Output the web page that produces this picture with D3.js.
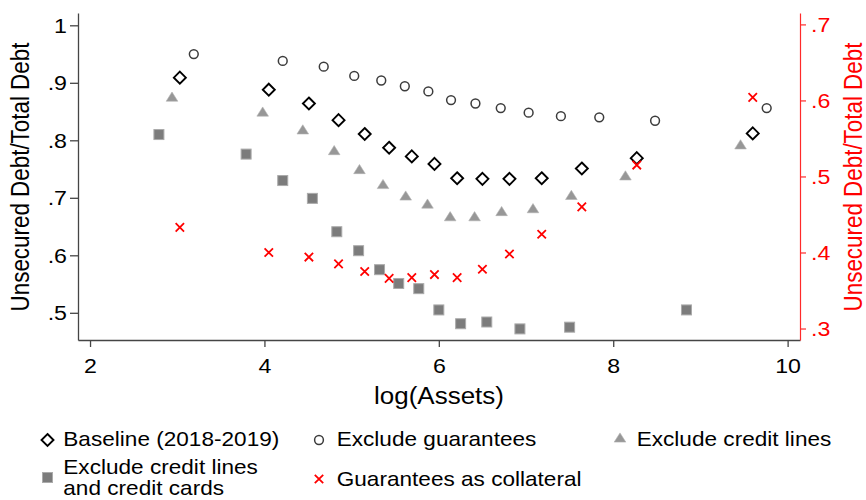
<!DOCTYPE html>
<html>
<head>
<meta charset="utf-8">
<script src="https://cdn.jsdelivr.net/npm/d3@7/dist/d3.min.js"></script>
<style>
  html, body { margin: 0; padding: 0; background: #fff; }
  svg { display: block; font-family: "Liberation Sans", Arial, sans-serif; }
</style>
</head>
<body>
<svg id="chart" width="866" height="500"></svg>
<script>
// log(Assets) bin midpoints shared by the baseline and collateral series
const assetsBase = [3.03, 4.05, 4.51, 4.85, 5.15, 5.43, 5.69, 5.95, 6.21, 6.50, 6.81, 7.18, 7.64, 8.27, 9.60];
const baselineShare = [0.909, 0.888, 0.864, 0.835, 0.811, 0.787, 0.772, 0.759, 0.734, 0.733, 0.733, 0.734, 0.751, 0.769, 0.812];
const collateralShare = [0.433, 0.400, 0.394, 0.385, 0.375, 0.366, 0.367, 0.371, 0.367, 0.378, 0.398, 0.424, 0.460, 0.515, 0.604];

const assetsExclGuar = [3.19, 4.21, 4.68, 5.03, 5.34, 5.61, 5.88, 6.14, 6.42, 6.71, 7.03, 7.40, 7.84, 8.48, 9.76];
const exclGuarShare = [0.950, 0.938, 0.928, 0.912, 0.904, 0.894, 0.885, 0.870, 0.864, 0.856, 0.848, 0.842, 0.840, 0.834, 0.856];

const assetsExclCL = [2.94, 3.98, 4.44, 4.80, 5.09, 5.36, 5.62, 5.87, 6.13, 6.41, 6.72, 7.08, 7.52, 8.14, 9.46];
const exclCLShare = [0.876, 0.850, 0.819, 0.783, 0.750, 0.724, 0.704, 0.690, 0.668, 0.668, 0.677, 0.682, 0.705, 0.739, 0.793];

const assetsExclCLCC = [2.79, 3.79, 4.21, 4.55, 4.83, 5.08, 5.32, 5.54, 5.77, 6.00, 6.25, 6.55, 6.93, 7.50, 8.84];
const exclCLCCShare = [0.810, 0.776, 0.730, 0.699, 0.641, 0.608, 0.575, 0.551, 0.542, 0.505, 0.481, 0.484, 0.472, 0.475, 0.505];

const xTicks = [2, 4, 6, 8, 10];
const yLeftTicks = [0.5, 0.6, 0.7, 0.8, 0.9, 1];
const yRightTicks = [0.3, 0.4, 0.5, 0.6, 0.7];

const legendLabels = [
  ["Baseline (2018-2019)"],
  ["Exclude guarantees"],
  ["Exclude credit lines"],
  ["Exclude credit lines", "and credit cards"],
  ["Guarantees as collateral"]
];

const svg = d3.select("#chart");
const SX = 1.13; // horizontal text stretch

const x = d3.scaleLinear().domain([1.862, 10.142]).range([78, 800]);
const yL = d3.scaleLinear().domain([0.4527, 1.0214]).range([340, 13]);
const yR = d3.scaleLinear().domain([0.2849, 0.715]).range([340, 13]);

const fmt = v => v === 1 ? "1" : d3.format(".1f")(v).replace(/^0/, "");

// ---- marker shapes ----
function diamond(g, cx, cy) {
  const h = 6;
  g.append("path")
    .attr("d", `M${cx},${cy - h}L${cx + h},${cy}L${cx},${cy + h}L${cx - h},${cy}Z`)
    .attr("fill", "#fff").attr("stroke", "#000").attr("stroke-width", 1.9);
}
function circle(g, cx, cy) {
  g.append("circle").attr("cx", cx).attr("cy", cy).attr("r", 4.4)
    .attr("fill", "none").attr("stroke", "#3c3c3c").attr("stroke-width", 1.5);
}
function triangle(g, cx, cy) {
  const w = 5.8, h = 4.6;
  g.append("path")
    .attr("d", `M${cx},${cy - h}L${cx + w},${cy + h}L${cx - w},${cy + h}Z`)
    .attr("fill", "#979797").attr("stroke", "#b0b0b0").attr("stroke-width", 0.6);
}
function square(g, cx, cy) {
  const s = 5;
  g.append("rect").attr("x", cx - s).attr("y", cy - s).attr("width", 2 * s).attr("height", 2 * s)
    .attr("fill", "#7c7c7c").attr("stroke", "#ababab").attr("stroke-width", 1);
}
function cross(g, cx, cy) {
  const a = 4.2;
  g.append("path")
    .attr("d", `M${cx - a},${cy - a}L${cx + a},${cy + a}M${cx - a},${cy + a}L${cx + a},${cy - a}`)
    .attr("stroke", "#ff0000").attr("stroke-width", 1.8).attr("fill", "none");
}

// ---- axes ----
const axisLeft = svg.append("g").attr("transform", "translate(78,0)")
  .call(d3.axisLeft(yL).tickValues(yLeftTicks).tickFormat(fmt).tickSize(8).tickSizeOuter(0));
const axisBottom = svg.append("g").attr("transform", "translate(0,340)")
  .call(d3.axisBottom(x).tickValues(xTicks).tickFormat(d3.format("d")).tickSize(7).tickSizeOuter(0));
const axisRight = svg.append("g").attr("transform", "translate(800,0)")
  .call(d3.axisRight(yR).tickValues(yRightTicks).tickFormat(fmt).tickSize(6).tickSizeOuter(0));

[axisLeft, axisBottom].forEach(a => {
  a.select(".domain").attr("stroke", "#454545").attr("stroke-width", 1.3);
  a.selectAll(".tick line").attr("stroke", "#454545").attr("stroke-width", 1.3);
  a.selectAll(".tick text").attr("fill", "#000");
});
axisRight.select(".domain").attr("stroke", "#ff2a2a").attr("stroke-width", 1.2);
axisRight.selectAll(".tick line").attr("stroke", "#ff2a2a").attr("stroke-width", 1.2);
axisRight.selectAll(".tick text").attr("fill", "#ff0000");

svg.selectAll(".tick text").attr("font-family", "Liberation Sans, Arial, sans-serif").attr("font-size", 20.5);

axisLeft.selectAll(".tick text").attr("x", null).attr("dy", "0.35em")
  .attr("transform", `translate(-11,0) scale(${SX},1)`);
axisRight.selectAll(".tick text").attr("x", null).attr("dy", "0.35em")
  .attr("transform", `translate(11,0) scale(${SX},1)`);
axisBottom.selectAll(".tick text").attr("y", null).attr("dy", null)
  .attr("transform", `translate(0,33) scale(${SX},1)`);

// ---- axis titles ----
svg.append("text")
  .attr("transform", `translate(29,177) scale(${SX},1) rotate(-90)`)
  .attr("text-anchor", "middle").attr("font-size", 22.4).attr("fill", "#000")
  .text("Unsecured Debt/Total Debt");
svg.append("text")
  .attr("transform", `translate(862,177) scale(${SX},1) rotate(-90)`)
  .attr("text-anchor", "middle").attr("font-size", 22.4).attr("fill", "#ff0000")
  .text("Unsecured Debt/Total Debt");
svg.append("text")
  .attr("transform", `translate(439,404) scale(${SX},1)`)
  .attr("text-anchor", "middle").attr("font-size", 23).attr("fill", "#000")
  .text("log(Assets)");

// ---- points ----
const plot = svg.append("g");
const series = [
  { xs: assetsBase, ys: baselineShare, y: yL, mark: diamond },
  { xs: assetsExclGuar, ys: exclGuarShare, y: yL, mark: circle },
  { xs: assetsExclCL, ys: exclCLShare, y: yL, mark: triangle },
  { xs: assetsExclCLCC, ys: exclCLCCShare, y: yL, mark: square },
  { xs: assetsBase, ys: collateralShare, y: yR, mark: cross }
];
series.forEach(s => {
  s.xs.forEach((xv, i) => s.mark(plot, x(xv), s.y(s.ys[i])));
});

// ---- legend ----
const legendPos = [
  { mx: 47.5, my: 440, tx: 63.3, ty: 446 },
  { mx: 319, my: 440, tx: 336.7, ty: 446 },
  { mx: 620, my: 437.5, tx: 636.7, ty: 446 },
  { mx: 47.5, my: 477.5, tx: 63.3, ty: 474 },
  { mx: 319, my: 479, tx: 336.7, ty: 486 }
];
const legend = svg.append("g");
series.forEach((s, i) => {
  const p = legendPos[i];
  s.mark(legend, p.mx, p.my);
  legendLabels[i].forEach((line, j) => {
    legend.append("text")
      .attr("transform", `translate(${p.tx},${p.ty + j * 20.5}) scale(${SX},1)`)
      .attr("font-size", 20).attr("fill", "#000")
      .text(line);
  });
});
</script>
</body>
</html>
